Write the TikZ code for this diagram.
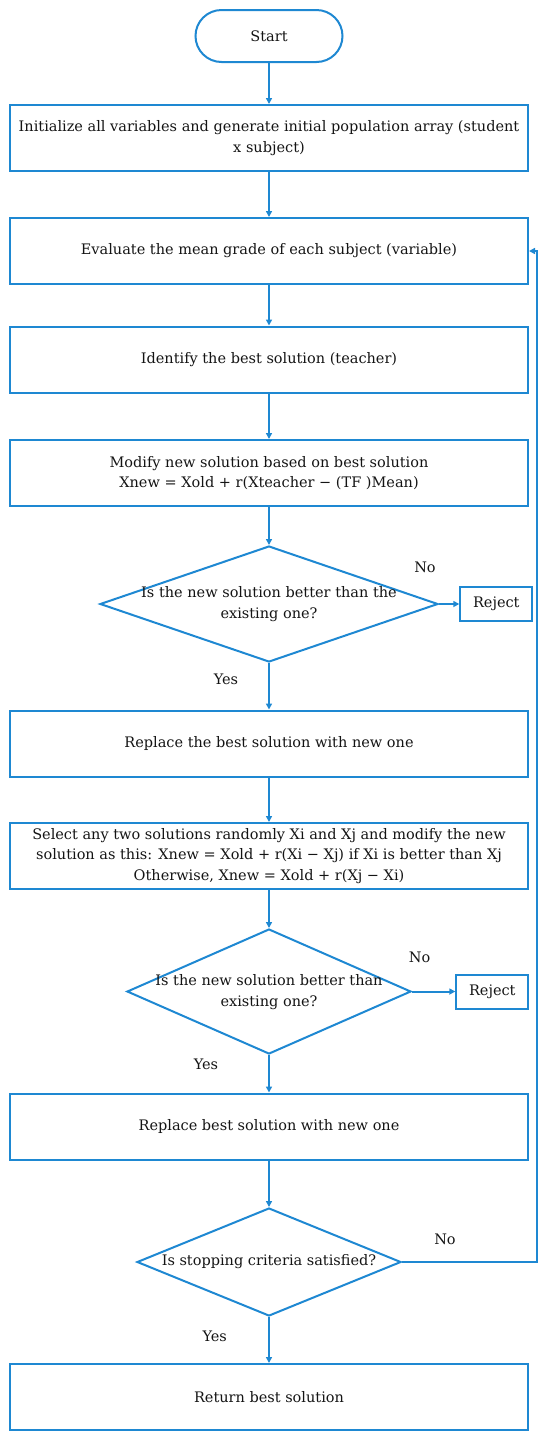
\documentclass[tikz,border=0pt]{standalone}
\usepackage{fontspec}
\setmainfont{DejaVu Serif}
\usetikzlibrary{shapes.geometric,arrows.meta}
\definecolor{fc}{RGB}{30,136,210}
\begin{document}
\begin{tikzpicture}[x=1pt,y=-1pt,
  every node/.style={font=\fontsize{14.5}{20.3}\selectfont, text=black!92},
  proc/.style={draw=fc, line width=2pt, rectangle, minimum width=518pt, minimum height=66pt, align=center, inner sep=0pt},
  term/.style={draw=fc, line width=2pt, rectangle, rounded corners=26pt, minimum width=147pt, minimum height=52pt},
  dec/.style={draw=fc, line width=2pt, diamond, inner sep=0pt},
  dtext/.style={align=center, inner sep=0pt},
  rej/.style={draw=fc, line width=2pt, rectangle, minimum width=72pt, minimum height=34pt, inner sep=0pt},
  lbl/.style={inner sep=0pt},
  flow/.style={draw=fc, line width=2pt, -{Triangle[length=6pt,width=6pt]}},
]
\useasboundingbox (0,0) rectangle (550,1441);

\node[term] (start) at (269,36) {Start};
\node[proc] (b1) at (269,138) {Initialize all variables and generate initial population array (student\\x subject)};
\node[proc] (b2) at (269,251) {Evaluate the mean grade of each subject (variable)};
\node[proc] (b3) at (269,359.5) {Identify the best solution (teacher)};
\node[proc] (b4) at (269,473) {Modify new solution based on best solution\\Xnew = Xold + r(Xteacher − (TF )Mean)};
\node[dec, minimum width=338pt, minimum height=116pt] (d1) at (269,604) {};
\node[dtext] (d1t) at (269,604) {Is the new solution better than the\\existing one?};
\node[rej] (r1) at (496.3,604) {Reject};
\node[lbl] (no1) at (425,567) {No};
\node[lbl] (yes1) at (226,679) {Yes};
\node[proc] (b5) at (269,743.5) {Replace the best solution with new one};
\node[proc] (b6) at (269,856) {Select any two solutions randomly Xi and Xj and modify the new\\solution as this: Xnew = Xold + r(Xi − Xj) if Xi is better than Xj\\Otherwise, Xnew = Xold + r(Xj − Xi)};
\node[dec, minimum width=284pt, minimum height=125pt] (d2) at (269,991.5) {};
\node[dtext] (d2t) at (269,992) {Is the new solution better than\\existing one?};
\node[rej] (r2) at (492.3,991.5) {Reject};
\node[lbl] (no2) at (419.7,957) {No};
\node[lbl] (yes2) at (206,1064) {Yes};
\node[proc] (b7) at (269,1126.5) {Replace best solution with new one};
\node[dec, minimum width=264pt, minimum height=108pt] (d3) at (269,1262) {};
\node[dtext] (d3t) at (269,1262) {Is stopping criteria satisfied?};
\node[lbl] (no3) at (445,1239) {No};
\node[lbl] (yes3) at (214.7,1336) {Yes};
\node[proc] (b8) at (269,1397) {Return best solution};
\coordinate (loopc) at (536.5,1262);

\draw[flow] (start.south) -- (b1.north);
\draw[flow] (b1.south) -- (b2.north);
\draw[flow] (b2.south) -- (b3.north);
\draw[flow] (b3.south) -- (b4.north);
\draw[flow] (b4.south) -- (d1.north);
\draw[flow] (d1.east) -- (r1.west);
\draw[flow] (d1.south) -- (b5.north);
\draw[flow] (b5.south) -- (b6.north);
\draw[flow] (b6.south) -- (d2.north);
\draw[flow] (d2.east) -- (r2.west);
\draw[flow] (d2.south) -- (b7.north);
\draw[flow] (b7.south) -- (d3.north);
\draw[flow] (d3.south) -- (b8.north);
\draw[flow] (d3.east) -- (loopc) |- (b2.east);
\end{tikzpicture}
\end{document}
